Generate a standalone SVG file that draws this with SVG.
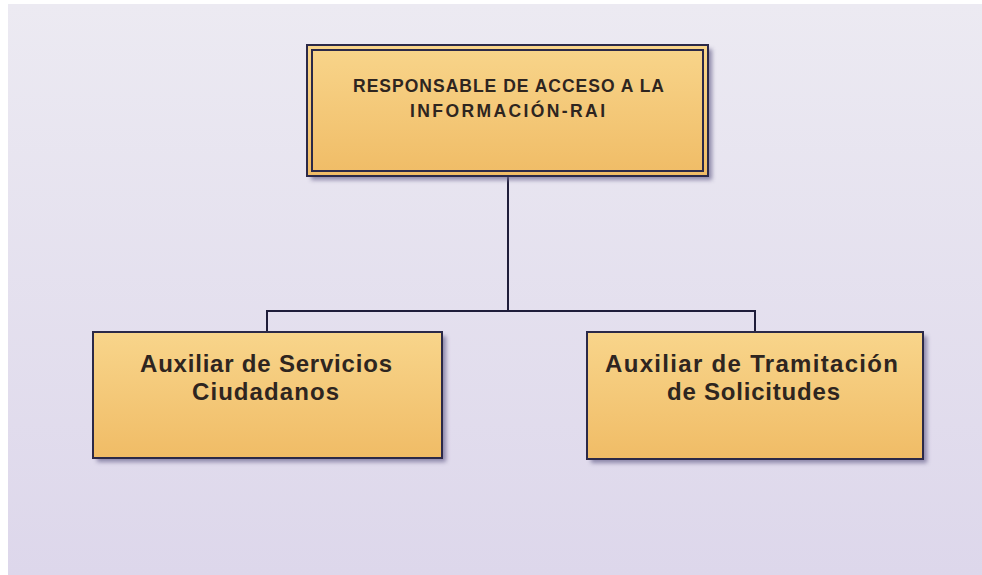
<svg xmlns="http://www.w3.org/2000/svg" width="982" height="575" viewBox="0 0 982 575">
  <defs>
    <linearGradient id="bg" x1="0" y1="0" x2="0" y2="1">
      <stop offset="0" stop-color="#eceaf2"/>
      <stop offset="1" stop-color="#ddd7eb"/>
    </linearGradient>
    <linearGradient id="box" x1="0" y1="0" x2="0" y2="1">
      <stop offset="0" stop-color="#f8d58b"/>
      <stop offset="1" stop-color="#f0bc66"/>
    </linearGradient>
    <filter id="shadow" x="-10%" y="-10%" width="130%" height="140%">
      <feGaussianBlur stdDeviation="2"/>
    </filter>
  </defs>
  <style>
    .shadow { fill: #6f6a92; opacity: 0.75; filter: url(#shadow); }
    .box { fill: url(#box); stroke: #2b2948; stroke-width: 2; }
    .inner { fill: none; stroke: #2b2948; stroke-width: 2; }
    .conn { fill: none; stroke: #1f1d3a; stroke-width: 2; }
    .t1 { font-family: "Liberation Sans", Arial, sans-serif; font-weight: bold; font-size: 17.5px; fill: #2e2520; }
    .t2 { font-family: "Liberation Sans", Arial, sans-serif; font-weight: bold; font-size: 24px; fill: #2e2520; }
  </style>
  <rect x="0" y="0" width="982" height="575" fill="#ffffff"/>
  <rect x="8" y="4" width="974" height="571" fill="url(#bg)"/>

  <g id="connectors">
    <line class="conn" x1="508" y1="176" x2="508" y2="311"/>
    <polyline class="conn" points="267,332 267,311 755,311 755,332"/>
  </g>

  <g id="node-rai">
    <rect class="shadow" x="311" y="49" width="401" height="131"/>
    <rect class="box" x="307" y="45" width="401" height="131"/>
    <rect class="inner" x="312" y="50" width="391" height="121"/>
    <text class="t1" x="508.5" y="92" text-anchor="middle" textLength="311" lengthAdjust="spacing">RESPONSABLE DE ACCESO A LA</text>
    <text class="t1" x="507.5" y="117" text-anchor="middle" textLength="195" lengthAdjust="spacing">INFORMACIÓN-RAI</text>
  </g>

  <g id="node-servicios">
    <rect class="shadow" x="97" y="336" width="349" height="126"/>
    <rect class="box" x="93" y="332" width="349" height="126"/>
    <text class="t2" x="266" y="372" text-anchor="middle" textLength="252" lengthAdjust="spacing">Auxiliar de Servicios</text>
    <text class="t2" x="265.5" y="400" text-anchor="middle" textLength="147" lengthAdjust="spacing">Ciudadanos</text>
  </g>

  <g id="node-tramitacion">
    <rect class="shadow" x="591" y="336" width="336" height="127"/>
    <rect class="box" x="587" y="332" width="336" height="127"/>
    <text class="t2" x="751.5" y="372" text-anchor="middle" textLength="293" lengthAdjust="spacing">Auxiliar de Tramitación</text>
    <text class="t2" x="753.5" y="400" text-anchor="middle" textLength="173" lengthAdjust="spacing">de Solicitudes</text>
  </g>
</svg>
